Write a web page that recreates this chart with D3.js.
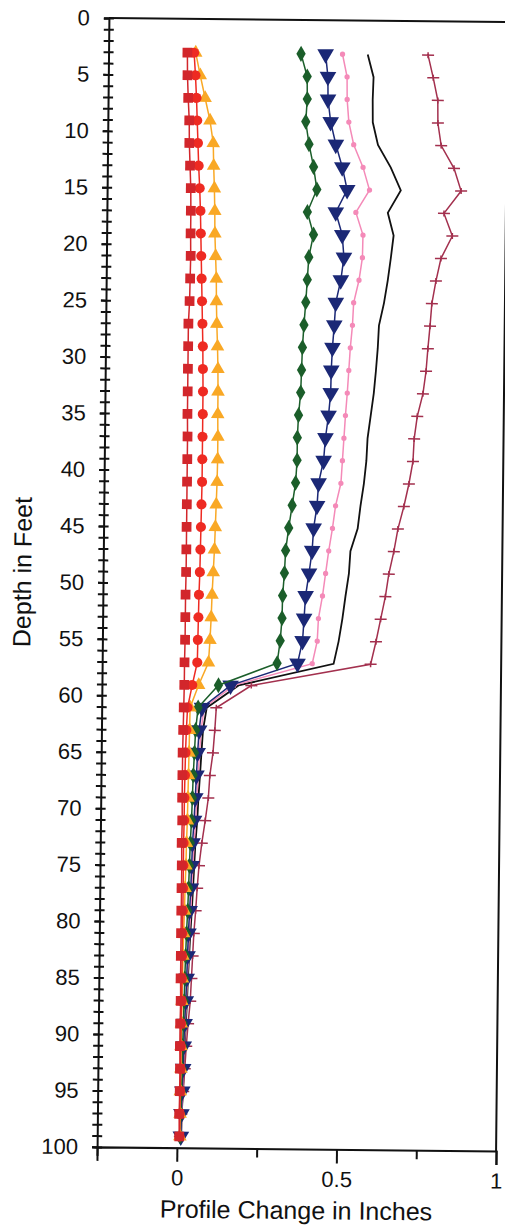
<!DOCTYPE html>
<html>
<head>
<meta charset="utf-8">
<script src="https://cdn.jsdelivr.net/npm/d3@7"></script>
<style>
  body { margin: 0; background: #fff; }
  svg { display: block; }
  text { font-family: "Liberation Sans", Arial, sans-serif; fill: #111; }
</style>
</head>
<body>
<svg width="505" height="1230"></svg>
<script>
// depth (ft) of each reading
const depths = [3,5,7,9,11,13,15,17,19,21,23,25,27,29,31,33,35,37,39,41,43,45,47,49,
  51,53,55,57,59,61,63,65,67,69,71,73,75,77,79,81,83,85,87,89,91,93,95,97,99];

// profile change (in) per reading, one array per survey
const redSquares = [-0.003,-0.002,0.001,0.005,0.006,0.009,0.012,0.013,0.013,0.014,0.013,0.012,0.009,0.009,0.009,0.009,0.009,0.010,0.010,0.010,0.010,0.010,0.010,0.010,
  0.009,0.009,0.009,0.008,0.008,0.007,0.006,0.005,0.005,0.005,0.006,0.005,0.006,0.006,0.006,0.006,0.006,0.006,0.007,0.006,0.006,0.007,0.007,0.006,0.007];
const redCircles = [0.018,0.023,0.027,0.030,0.033,0.036,0.040,0.043,0.045,0.047,0.049,0.051,0.053,0.055,0.056,0.057,0.057,0.057,0.057,0.057,0.056,0.055,0.054,0.053,
  0.051,0.050,0.049,0.048,0.033,0.019,0.016,0.014,0.013,0.012,0.012,0.011,0.011,0.011,0.011,0.010,0.010,0.010,0.010,0.009,0.009,0.009,0.008,0.008,0.008];
const orangeTri = [0.023,0.038,0.054,0.070,0.081,0.083,0.086,0.088,0.089,0.092,0.095,0.096,0.098,0.101,0.103,0.104,0.104,0.105,0.105,0.104,0.102,0.100,0.098,0.095,
  0.092,0.090,0.087,0.083,0.053,0.027,0.026,0.025,0.024,0.023,0.022,0.020,0.019,0.017,0.016,0.014,0.013,0.012,0.011,0.010,0.010,0.010,0.009,0.009,0.009];
const greenDia = [0.353,0.373,0.374,0.370,0.381,0.396,0.407,0.378,0.398,0.384,0.380,0.376,0.371,0.367,0.365,0.363,0.357,0.354,0.354,0.350,0.340,0.330,0.321,0.318,
  0.313,0.312,0.307,0.298,0.115,0.052,0.045,0.042,0.039,0.037,0.035,0.032,0.030,0.028,0.026,0.023,0.021,0.019,0.018,0.016,0.015,0.014,0.012,0.011,0.010];
const navyTri = [0.430,0.438,0.439,0.448,0.465,0.486,0.502,0.467,0.488,0.494,0.485,0.470,0.466,0.461,0.458,0.457,0.451,0.442,0.437,0.422,0.418,0.408,0.404,0.395,
  0.385,0.381,0.377,0.362,0.153,0.064,0.056,0.052,0.049,0.046,0.043,0.039,0.037,0.035,0.032,0.029,0.027,0.025,0.023,0.020,0.018,0.017,0.015,0.013,0.012];
const pinkDot = [0.483,0.498,0.499,0.505,0.521,0.551,0.572,0.530,0.553,0.552,0.542,0.526,0.523,0.517,0.513,0.509,0.504,0.500,0.496,0.492,0.476,0.467,0.456,0.447,
  0.438,0.426,0.423,0.408,0.163,0.071,0.062,0.058,0.054,0.051,0.048,0.044,0.041,0.038,0.036,0.032,0.030,0.027,0.025,0.022,0.020,0.018,0.016,0.014,0.013];
const blackLine = [0.562,0.581,0.579,0.580,0.597,0.638,0.670,0.630,0.649,0.641,0.632,0.621,0.606,0.603,0.598,0.592,0.583,0.574,0.571,0.564,0.554,0.546,0.524,0.520,
  0.510,0.501,0.490,0.475,0.178,0.079,0.068,0.064,0.060,0.056,0.053,0.048,0.045,0.042,0.039,0.035,0.032,0.029,0.027,0.024,0.021,0.019,0.017,0.014,0.013];
const maroonDash = [0.751,0.768,0.783,0.784,0.795,0.836,0.859,0.806,0.833,0.798,0.783,0.771,0.766,0.760,0.755,0.746,0.729,0.720,0.717,0.705,0.690,0.672,0.660,0.645,
  0.635,0.621,0.607,0.591,0.218,0.109,0.105,0.100,0.091,0.087,0.078,0.068,0.060,0.055,0.051,0.046,0.043,0.040,0.037,0.031,0.026,0.022,0.018,0.013,0.009];

const xTicks = [-0.25, 0, 0.25, 0.5, 0.75, 1];
const xLabels = ["", "0", "", "0.5", "", "1"];
const yTicks = [0,5,10,15,20,25,30,35,40,45,50,55,60,65,70,75,80,85,90,95,100];

var svg = d3.select("svg"),
    plotL = 103, plotR = 502, plotT = 20, plotB = 1149;

var x = d3.scaleLinear().domain([-0.25, 1]).range([plotL, plotR]);
var y = d3.scaleLinear().domain([0, 100]).range([plotT, plotB]);

// the scanned original sits a little crooked
var g = svg.append("g")
    .attr("transform", "rotate(0.6," + (plotL + plotR) / 2 + "," + (plotT + plotB) / 2 + ")");

// frame top / right
g.append("path")
    .attr("d", "M" + plotL + "," + plotT + "H" + plotR + "V" + plotB)
    .attr("fill", "none").attr("stroke", "#111").attr("stroke-width", 2);

// y axis, ticks every foot crossing the line
g.append("g")
    .attr("transform", "translate(" + plotL + ",0)")
    .call(d3.axisLeft(y).tickValues(yTicks).tickSize(5).tickPadding(14));
g.append("g")
    .attr("transform", "translate(" + plotL + ",0)")
    .call(d3.axisLeft(y).ticks(100).tickSize(-5).tickFormat(""))
    .call(a => a.select(".domain").remove());
g.append("g")
    .attr("transform", "translate(" + plotL + ",0)")
    .call(d3.axisLeft(y).ticks(100).tickSize(5).tickFormat(""))
    .call(a => a.select(".domain").remove());

// x axis
var xAx = g.append("g")
    .attr("transform", "translate(0," + plotB + ")")
    .call(d3.axisBottom(x).tickValues(xTicks).tickSize(14).tickPadding(8)
      .tickFormat((d, i) => xLabels[i]));
xAx.selectAll(".tick line").attr("y2", (d, i) => xLabels[i] ? 14 : 9);

g.selectAll(".domain").attr("stroke", "#111").attr("stroke-width", 2);
g.selectAll(".tick line").attr("stroke", "#111").attr("stroke-width", 2);
g.selectAll(".tick text").attr("font-size", 22).attr("fill", "#111");

// axis titles
g.append("text")
    .attr("x", (plotL + plotR) / 2).attr("y", 1219)
    .attr("text-anchor", "middle").attr("font-size", 25)
    .text("Profile Change in Inches");
g.append("text")
    .attr("transform", "translate(31,575) rotate(-90)")
    .attr("text-anchor", "middle").attr("font-size", 25)
    .text("Depth in Feet");

const series = [
  {vals: blackLine, color: "#111111", width: 1.8, mark: null},
  {vals: maroonDash, color: "#a3304e", width: 1.5, mark: "dash"},
  {vals: pinkDot, color: "#f48ab8", width: 1.5, mark: d3.symbolCircle, size: 22},
  {vals: navyTri, color: "#1b2876", width: 1.5, mark: d3.symbolTriangle, size: 120, flip: true},
  {vals: greenDia, color: "#1b5e2a", width: 1.5, mark: d3.symbolDiamond, size: 75},
  {vals: orangeTri, color: "#f9a825", width: 1.5, mark: d3.symbolTriangle, size: 80},
  {vals: redCircles, color: "#ee2a22", width: 1.5, mark: d3.symbolCircle, size: 80},
  {vals: redSquares, color: "#d2262b", width: 1.5, mark: d3.symbolSquare, size: 95}
];

var line = d3.line()
    .x(d => x(d))
    .y((d, i) => y(depths[i]));

series.forEach(s => {
  g.append("path")
      .datum(s.vals)
      .attr("d", line)
      .attr("fill", "none")
      .attr("stroke", s.color)
      .attr("stroke-width", s.width);

  if (!s.mark) return;
  var pts = g.append("g").selectAll("path")
      .data(s.vals)
      .join("path")
      .attr("transform", (d, i) => "translate(" + x(d) + "," + y(depths[i]) + ")" + (s.flip ? " rotate(180)" : ""));
  if (s.mark == "dash") {
    pts.attr("d", "M-6,0H6M0,-3V3")
       .attr("stroke", s.color).attr("stroke-width", 1.5).attr("fill", "none");
  } else {
    pts.attr("d", d3.symbol().type(s.mark).size(s.size))
       .attr("fill", s.color);
  }
});
</script>
</body>
</html>
